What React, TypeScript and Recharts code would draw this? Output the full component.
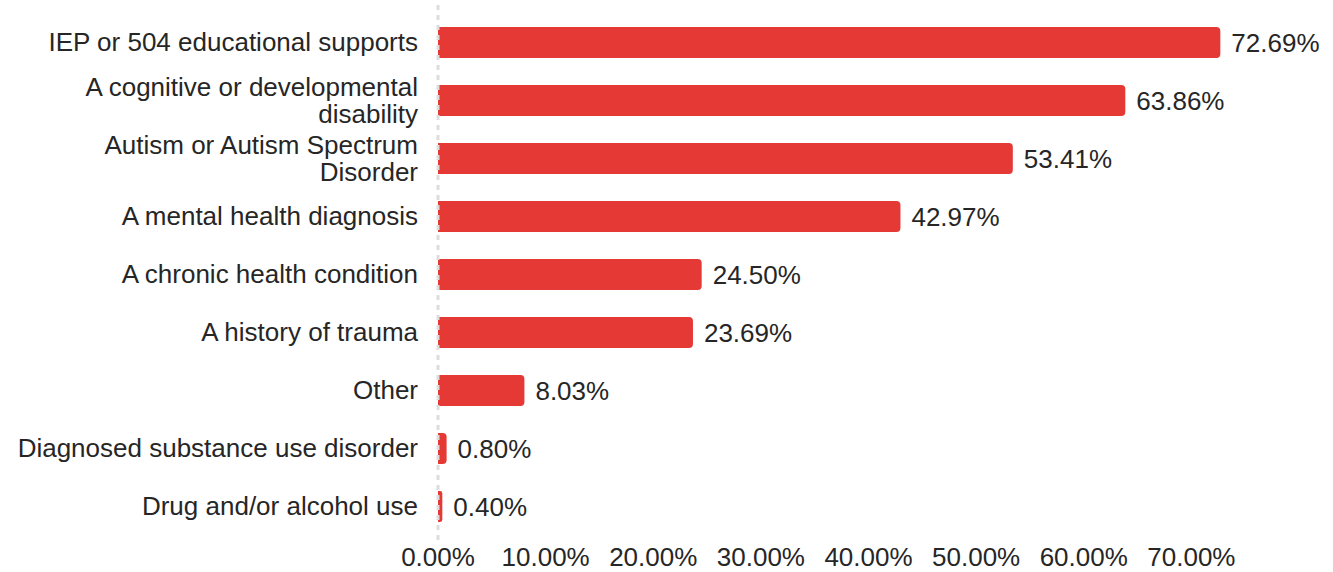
import React from "react";
import { BarChart, Bar, XAxis, YAxis, LabelList, ReferenceLine } from "recharts";

const categories: string[] = [
  "IEP or 504 educational supports",
  "A cognitive or developmental\ndisability",
  "Autism or Autism Spectrum\nDisorder",
  "A mental health diagnosis",
  "A chronic health condition",
  "A history of trauma",
  "Other",
  "Diagnosed substance use disorder",
  "Drug and/or alcohol use",
];

const values: number[] = [72.69, 63.86, 53.41, 42.97, 24.5, 23.69, 8.03, 0.8, 0.4];

const xTicks: number[] = [0, 10, 20, 30, 40, 50, 60, 70];

const data = categories.map((c, i) => ({ name: c, value: values[i] }));

const FONT = "'Liberation Sans', Arial, sans-serif";
const TEXT_COLOR = "#262626";
const FS = 26;

const YTick = (props: any) => {
  const { x, y, payload } = props;
  const lines: string[] = String(payload.value).split("\n");
  const lh = 27;
  const startOffset = -((lines.length - 1) / 2) * lh;
  return (
    <text
      x={x}
      y={y}
      textAnchor="end"
      fill={TEXT_COLOR}
      fontFamily={FONT}
      fontSize={FS}
    >
      {lines.map((l, i) => (
        <tspan key={i} x={x} dy={i === 0 ? startOffset + FS * 0.355 : lh}>
          {l}
        </tspan>
      ))}
    </text>
  );
};

export default function App() {
  return (
    <div style={{ position: "absolute", left: 0, top: 0, width: 1333, height: 572, background: "#fff" }}>
      <BarChart
        width={1333}
        height={572}
        data={data}
        layout="vertical"
        margin={{ top: 5, right: 34, bottom: 0, left: 0 }}
      >
        <XAxis
          type="number"
          domain={[0, 80]}
          ticks={xTicks}
          axisLine={false}
          tickLine={false}
          height={32}
          tickFormatter={(v: number) => v.toFixed(2) + "%"}
          tick={{ fill: TEXT_COLOR, fontSize: FS, fontFamily: FONT }}
          interval={0}
        />
        <YAxis
          type="category"
          dataKey="name"
          width={438}
          axisLine={false}
          tickLine={false}
          tickSize={0}
          tickMargin={20}
          padding={{ top: 8, bottom: 5 }}
          tick={<YTick />}
          interval={0}
        />
        <ReferenceLine x={0} stroke="#dddddd" strokeWidth={3} strokeDasharray="5 5" />
        <Bar dataKey="value" fill="#e53935" barSize={31} radius={[0, 4, 4, 0]} isAnimationActive={false}>
          <LabelList
            dataKey="value"
            position="right"
            offset={11}
            formatter={(v: any) => Number(v).toFixed(2) + "%"}
            fill={TEXT_COLOR}
            fontSize={FS}
            fontFamily={FONT}
          />
        </Bar>
      </BarChart>
    </div>
  );
}
